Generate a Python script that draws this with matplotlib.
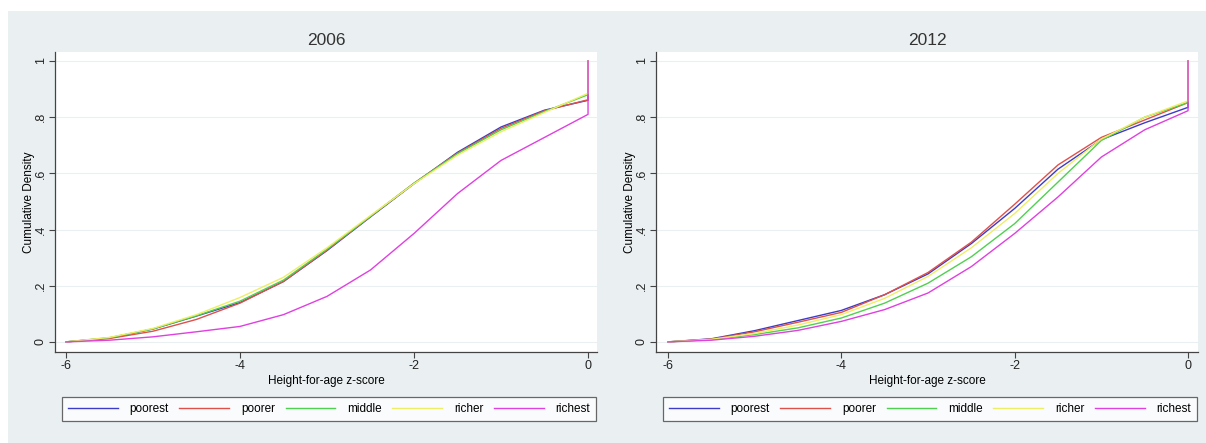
import matplotlib.pyplot as plt
from matplotlib.patches import Rectangle

plt.rcParams['font.family'] = ['Liberation Sans', 'DejaVu Sans']

z = [-6, -5.5, -5, -4.5, -4, -3.5, -3, -2.5, -2, -1.5, -1, -0.5, 0]

groups = ['poorest', 'poorer', 'middle', 'richer', 'richest']
colors = ['#3c3cc8', '#e0504a', '#50d050', '#eeee66', '#e040e0']

cdf_2006 = {
    'poorest': [0, 0.014, 0.046, 0.092, 0.140, 0.215, 0.325, 0.445, 0.563, 0.675, 0.765, 0.825, 0.860],
    'poorer':  [0, 0.012, 0.038, 0.080, 0.138, 0.215, 0.327, 0.447, 0.565, 0.672, 0.760, 0.823, 0.862],
    'middle':  [0, 0.015, 0.046, 0.093, 0.145, 0.220, 0.330, 0.447, 0.565, 0.670, 0.755, 0.820, 0.880],
    'richer':  [0, 0.016, 0.048, 0.097, 0.158, 0.230, 0.335, 0.450, 0.563, 0.665, 0.748, 0.817, 0.885],
    'richest': [0, 0.006, 0.018, 0.036, 0.055, 0.097, 0.162, 0.256, 0.386, 0.528, 0.646, 0.728, 0.810],
}

cdf_2012 = {
    'poorest': [0, 0.011, 0.040, 0.076, 0.112, 0.168, 0.242, 0.350, 0.475, 0.615, 0.720, 0.780, 0.835],
    'poorer':  [0, 0.010, 0.036, 0.070, 0.105, 0.168, 0.247, 0.355, 0.490, 0.630, 0.728, 0.790, 0.852],
    'middle':  [0, 0.008, 0.026, 0.050, 0.085, 0.138, 0.209, 0.303, 0.421, 0.569, 0.717, 0.800, 0.852],
    'richer':  [0, 0.009, 0.030, 0.060, 0.097, 0.155, 0.233, 0.335, 0.457, 0.600, 0.722, 0.800, 0.858],
    'richest': [0, 0.006, 0.020, 0.041, 0.073, 0.115, 0.174, 0.268, 0.386, 0.516, 0.658, 0.755, 0.823],
}

years = ['2006', '2012']
yticks = [0, 0.2, 0.4, 0.6, 0.8, 1]
ytick_labels = ['0', '.2', '.4', '.6', '.8', '1']
xticks = [-6, -4, -2, 0]
xtick_labels = ['-6', '-4', '-2', '0']

W, H = 1206, 443
fig = plt.figure(figsize=(W / 100, H / 100), dpi=100)
fig.patch.set_facecolor('white')
fig.patches.append(Rectangle((8 / W, 0), 1 - 8 / W, 1 - 11 / H, transform=fig.transFigure,
                             facecolor='#eaf0f2', edgecolor='none', zorder=-10))

boxes = [(55, 597), (656, 1198)]
xlims = [(-6.126, 0.103), (-6.138, 0.115)]

for i, (year, data) in enumerate(zip(years, [cdf_2006, cdf_2012])):
    x0, x1 = boxes[i]
    ax = fig.add_axes([x0 / W, 1 - 352 / H, (x1 - x0) / W, 300 / H])
    ax.set_facecolor('white')
    for g, c in zip(groups, colors):
        ax.plot(z + [0], data[g] + [1], color=c, lw=1.0, label=g)
    ax.set_xlim(*xlims[i])
    ax.set_ylim(-0.036, 1.032)
    ax.set_xticks(xticks)
    ax.set_xticklabels(xtick_labels, fontsize=9)
    ax.set_yticks(yticks)
    ax.set_yticklabels(ytick_labels, fontsize=9, rotation=90, va='center')
    ax.grid(axis='y', color='#eaf0f2', lw=0.8)
    ax.set_axisbelow(True)
    for s in ['top', 'right']:
        ax.spines[s].set_visible(False)
    for s in ['left', 'bottom']:
        ax.spines[s].set_color('#444444')
        ax.spines[s].set_linewidth(0.9)
    ax.tick_params(colors='#444444', labelcolor='#222222', length=4, width=0.8, pad=2)
    ax.set_title(year, fontsize=12.5, color='#333333', pad=5)
    ax.set_xlabel('Height-for-age z-score', fontsize=8.5, labelpad=2)
    ax.set_ylabel('Cumulative Density', fontsize=8.5)
    ax.yaxis.set_label_coords(-0.036, 0.5)
    leg = ax.legend(loc='lower left', bbox_to_anchor=(0.013, -0.23, 0.985, 0.087),
                    mode='expand', ncol=5, fontsize=8.5, handlelength=4.2,
                    handletextpad=1.0, frameon=True,
                    fancybox=False, borderaxespad=0, borderpad=0.5)
    leg.get_frame().set_edgecolor('#444444')
    leg.get_frame().set_linewidth(0.9)

fig.savefig('out.png', dpi=100, facecolor=fig.get_facecolor())
